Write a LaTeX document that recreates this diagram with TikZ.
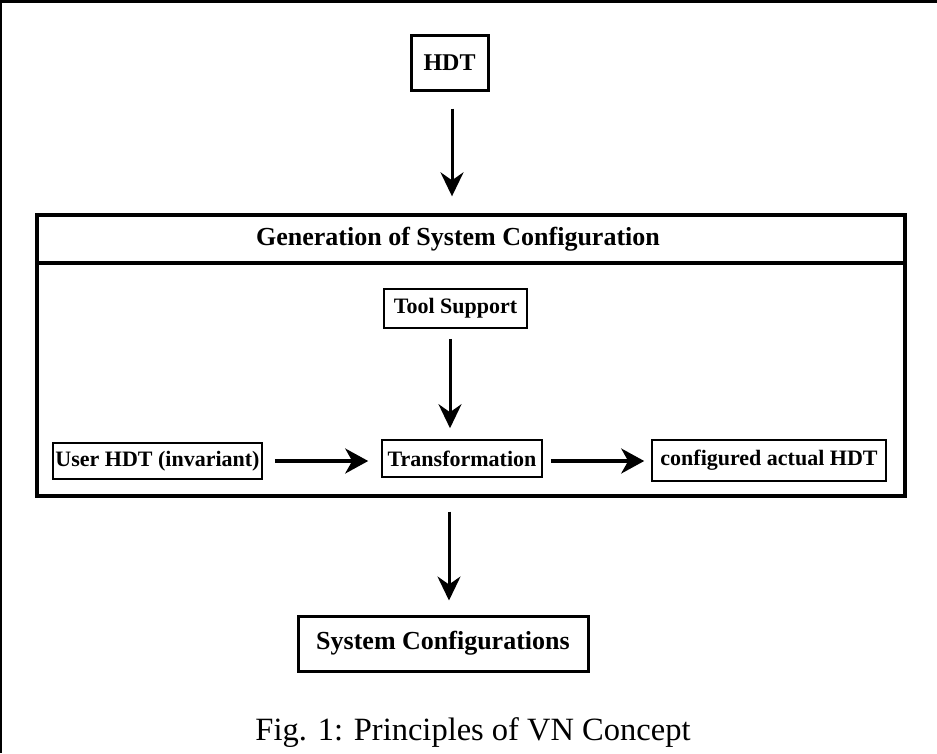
\documentclass[tikz,border=0pt]{standalone}
\usepackage{fontspec}
\setmainfont{Liberation Serif}
\usetikzlibrary{arrows.meta}

\begin{document}
\begin{tikzpicture}[x=1pt,y=-1pt,
  thickbox/.style={draw, line width=3pt, inner sep=0pt, align=center,
                   font=\bfseries\fontsize{24}{28}\selectfont},
  thinbox/.style={draw, line width=1.6pt, inner sep=0pt, align=center,
                  font=\bfseries\fontsize{22}{26}\selectfont},
  vflow/.style={line width=3pt, -{Stealth[length=24pt,width=23pt,inset=8pt]}},
  hflow/.style={line width=3.3pt, -{Stealth[length=23pt,width=25pt,inset=7pt]}}
]
\useasboundingbox (0,0) rectangle (937,753);

% partial outer frame (top and left edges)
\draw[line width=2.5pt] (0,1.25) -- (937,1.25);
\draw[line width=1.5pt] (0.75,0) -- (0.75,753);

% input
\node[thickbox, minimum width=77pt, minimum height=55pt] (hdt) at (449.5,62.5) {HDT};

% generation block with its header bar
\node[draw, line width=3.4pt, minimum width=868pt, minimum height=281pt, inner sep=0pt]
  (gen) at (471,355.5) {};
\draw[line width=4pt] ([yshift=-50pt]gen.north west) -- ([yshift=-50pt]gen.north east);
\node[anchor=base, font=\bfseries\fontsize{26}{30}\selectfont] (gentitle) at (458,245)
  {Generation of System Configuration};

% inner blocks
\node[thinbox, minimum width=143pt, minimum height=39pt] (tool) at (455.5,308.5) {Tool Support};
\node[thinbox, minimum width=209pt, minimum height=36pt] (user) at (157.5,461) {User HDT (invariant)};
\node[thinbox, minimum width=160pt, minimum height=37pt] (trans) at (462,458.5) {Transformation};
\node[thinbox, minimum width=234pt, minimum height=41pt] (conf) at (769,460.5) {configured actual HDT};

% output
\node[thickbox, minimum width=290pt, minimum height=55pt, font=\bfseries\fontsize{26}{30}\selectfont]
  (sys) at (443,643.5) {System Configurations};

% caption
\node[anchor=base, font=\fontsize{32.5}{38}\selectfont] (cap) at (473,740)
  {Fig. 1: Principles of VN Concept};

% connectors
\draw[vflow, shorten <=17pt, shorten >=17pt] ([xshift=2.5pt]hdt.south) -- ([xshift=2.5pt]hdt.south |- gen.north);
\draw[vflow, shorten <=10pt, shorten >=11pt] ([xshift=-5.5pt]tool.south) -- ([xshift=-5.5pt]tool.south |- trans.north);
\draw[hflow, shorten <=12pt, shorten >=13pt] (user.east) -- (user.east -| trans.west);
\draw[hflow, shorten <=8pt, shorten >=7pt] ([yshift=-2.5pt]trans.east) -- ([yshift=-2.5pt]trans.east -| conf.west);
\draw[vflow, shorten <=14pt, shorten >=14pt] (gen.south -| sys.north) ++(6pt,0) coordinate (gs) -- (gs |- sys.north);
\end{tikzpicture}
\end{document}
